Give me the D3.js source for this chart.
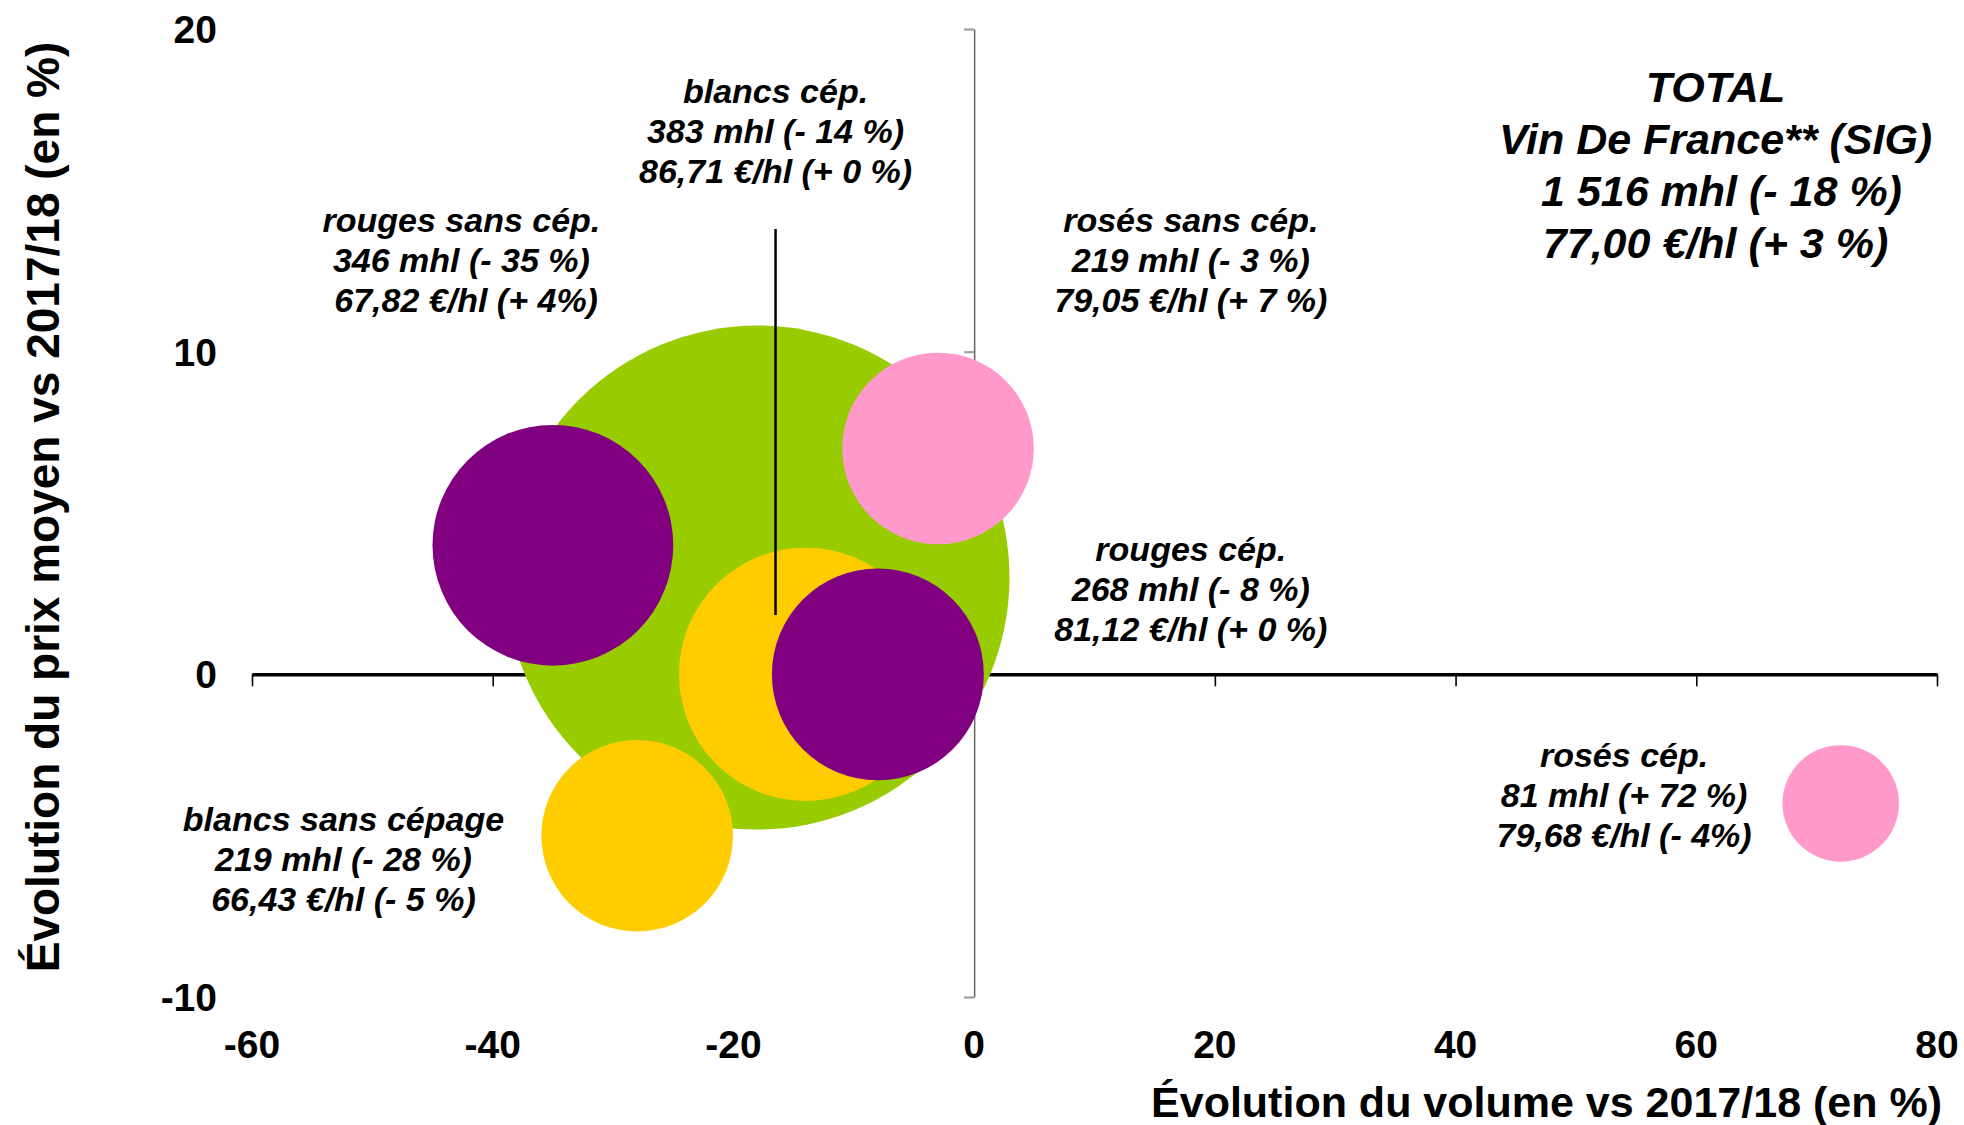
<!DOCTYPE html>
<html>
<head>
<meta charset="utf-8">
<script src="https://cdn.jsdelivr.net/npm/d3@7"></script>
<style>
  html, body { margin: 0; padding: 0; background: #ffffff; }
  svg { display: block; }
  text { font-family: "Liberation Sans", Arial, sans-serif; font-weight: bold; fill: #000; }
</style>
</head>
<body>
<svg id="chart" width="1964" height="1125"></svg>
<script>
// ---------- DATA ----------
const categories = ["TOTAL Vin De France", "blancs cép.", "rouges cép.", "rouges sans cép.", "rosés sans cép.", "blancs sans cépage", "rosés cép."];
const volumeChange = [-18, -14, -8, -35, -3, -28, 72];   // % (x)
const priceChange  = [3, 0, 0, 4, 7, -5, -4];            // % (y)
const volumeMhl    = [1516, 383, 268, 346, 219, 219, 81]; // bubble size
const colors       = ["#99CC00", "#FFCC00", "#800080", "#800080", "#FF99CC", "#FFCC00", "#FF99CC"];

const xTicks = [-60, -40, -20, 0, 20, 40, 60, 80];
const yTicks = [-10, 0, 10, 20];

const labelLines = [
  ["TOTAL", "Vin De France** (SIG)", " 1 516 mhl (- 18 %)", "77,00 €/hl (+ 3 %)"],
  ["blancs cép.", "383 mhl (- 14 %)", "86,71 €/hl (+ 0 %)"],
  ["rouges cép.", "268 mhl (- 8 %)", "81,12 €/hl (+ 0 %)"],
  ["rouges sans cép.", "346 mhl (- 35 %)", " 67,82 €/hl (+ 4%)"],
  ["rosés sans cép.", "219 mhl (- 3 %)", "79,05 €/hl (+ 7 %)"],
  ["blancs sans cépage", "219 mhl (- 28 %)", "66,43 €/hl (- 5 %)"],
  ["rosés cép.", "81 mhl (+ 72 %)", "79,68 €/hl (- 4%)"]
];
// label anchors in data units (x, y of first baseline)
const labelX = [61.6, -16.5, 18, -42.6, 18, -52.4, 54];
const labelY = [17.75, 17.7, 3.5, 13.7, 13.7, -4.85, -2.87];

// leader line in data units
const leaderX = -16.5;
const leaderY = [13.8, 1.84];

const xTitle = "Évolution du volume vs 2017/18 (en %)";
const yTitle = "Évolution du prix moyen vs 2017/18 (en %)";

// ---------- CHART ----------
const svg = d3.select("#chart");
const x = d3.scaleLinear().domain([-60, 80]).range([252, 1937]);
const y = d3.scaleLinear().domain([-10, 20]).range([997, 29]);
const r = d3.scaleSqrt().domain([0, 1516]).range([0, 252]);

// y axis (through x=0)
const yAxis = svg.append("g")
  .attr("transform", `translate(${x(0)},0)`)
  .call(d3.axisLeft(y).tickValues(yTicks).tickSize(10).tickSizeOuter(0).tickFormat(""));
yAxis.select(".domain").attr("stroke", "#666").attr("stroke-width", 1.5);
yAxis.selectAll(".tick line").attr("stroke", "#999").attr("stroke-width", 2);

// x axis (through y=0)
const xAxis = svg.append("g")
  .attr("transform", `translate(0,${y(0)})`)
  .call(d3.axisBottom(x).tickValues(xTicks).tickSize(12).tickSizeOuter(0).tickFormat(""));
xAxis.select(".domain").attr("stroke", "#000").attr("stroke-width", 3.5);
xAxis.selectAll(".tick line").attr("stroke", "#000").attr("stroke-width", 1.6);

// tick labels (low position)
svg.append("g").selectAll("text").data(xTicks).join("text")
  .attr("x", d => x(d)).attr("y", 1058)
  .attr("text-anchor", "middle")
  .style("font-size", "39px")
  .text(d => String(d));

svg.append("g").selectAll("text").data(yTicks).join("text")
  .attr("x", 217).attr("y", d => y(d))
  .attr("dy", "0.36em")
  .attr("text-anchor", "end")
  .style("font-size", "39px")
  .text(d => String(d));

// bubbles
const idx = d3.range(categories.length);
svg.append("g").selectAll("circle").data(idx).join("circle")
  .attr("cx", i => x(volumeChange[i]))
  .attr("cy", i => y(priceChange[i]))
  .attr("r", i => r(volumeMhl[i]))
  .attr("fill", i => colors[i]);

// leader line
svg.append("line")
  .attr("x1", x(leaderX)).attr("x2", x(leaderX))
  .attr("y1", y(leaderY[0])).attr("y2", y(leaderY[1]))
  .attr("stroke", "#000").attr("stroke-width", 2.5);

// labels
idx.forEach(i => {
  const big = i === 0;
  const lh = big ? 52 : 40;
  const t = svg.append("text")
    .attr("text-anchor", "middle")
    .style("font-style", "italic")
    .style("font-size", big ? "43px" : "34px")
    .style("white-space", "pre");
  labelLines[i].forEach((line, k) => {
    t.append("tspan")
      .attr("x", x(labelX[i]))
      .attr("y", y(labelY[i]) + k * lh)
      .text(line);
  });
});

// axis titles
svg.append("text")
  .attr("x", 1942).attr("y", 1117)
  .attr("text-anchor", "end")
  .style("font-size", "43px")
  .text(xTitle);

svg.append("text")
  .attr("transform", `translate(59,507) rotate(-90)`)
  .attr("text-anchor", "middle")
  .style("font-size", "46px")
  .text(yTitle);
</script>
</body>
</html>
